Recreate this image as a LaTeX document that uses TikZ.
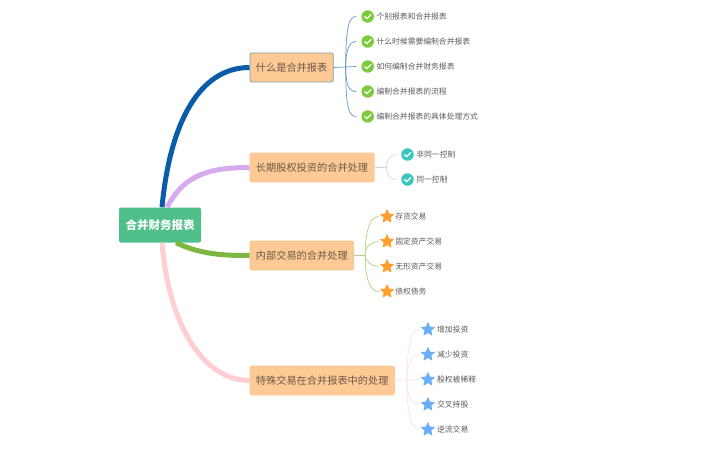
\documentclass[tikz,border=0pt]{standalone}
\usepackage{fontspec}
\setmainfont{Noto Sans CJK SC}
\usepackage{tikz}
\usetikzlibrary{positioning,shapes.geometric}
\definecolor{branchblue}{HTML}{0A5CA8}
\definecolor{branchpurple}{HTML}{D6AAEC}
\definecolor{branchgreen}{HTML}{7CB842}
\definecolor{branchpink}{HTML}{FFCDD2}
\definecolor{rootgreen}{HTML}{4FBF8B}
\definecolor{topicfill}{HTML}{FDCA96}
\definecolor{topictext}{HTML}{6A5848}
\definecolor{leaftext}{HTML}{5A5A5A}
\definecolor{chkgreen}{HTML}{7CCB3C}
\definecolor{chkteal}{HTML}{3CC4BE}
\definecolor{starorange}{HTML}{FFA02E}
\definecolor{starblue}{HTML}{6AAEF5}
\tikzset{
  rootbox/.style={draw=none, fill=rootgreen, rounded corners=2pt, minimum width=82pt, minimum height=35pt, inner sep=0pt, text=white, font=\fontsize{11.5pt}{12pt}\selectfont\bfseries},
  topicbox/.style={draw=#1, fill=topicfill, line width=.8pt, rounded corners=2pt, minimum height=29pt, inner xsep=6pt, inner ysep=0pt, text=topictext, font=\fontsize{10.2pt}{11pt}\selectfont},
  leaftxt/.style={inner sep=0pt, yshift=-.5pt, text=leaftext, font=\fontsize{7.8pt}{9pt}\selectfont},
  chkicon/.style={circle, fill=#1, minimum size=12.5pt, inner sep=0pt, path picture={\draw[white, line width=1.2pt, line cap=round, line join=round] ([xshift=-3pt]path picture bounding box.center) -- ([xshift=-.8pt,yshift=-2.2pt]path picture bounding box.center) -- ([xshift=3.2pt,yshift=2pt]path picture bounding box.center);}},
  staricon/.style={star, star points=5, star point ratio=2.2, fill=#1, draw=#1, line width=.8pt, line join=round, minimum size=13.5pt, inner sep=0pt},
  thick branch/.style={line width=5pt, #1},
  thin branch/.style={line width=.7pt, #1!65!white}
}
\begin{document}
\begin{tikzpicture}[x=1pt, y=1pt, node distance=89.5pt]
\useasboundingbox (0,0) rectangle (720,448);
\node[rootbox] (root) at (160,223) {合并财务报表};
\node[topicbox=gray!75!cyan, right of=root, anchor=west, yshift=157.5pt] (what) {什么是合并报表};
\node[topicbox=topicfill!80!pink, right of=root, anchor=west, yshift=57.5pt] (equity) {长期股权投资的合并处理};
\node[topicbox=topicfill!85!branchgreen, right of=root, anchor=west, yshift=-30.5pt] (inner) {内部交易的合并处理};
\node[topicbox=topicfill!90!pink, right of=root, anchor=west, yshift=-155.5pt] (special) {特殊交易在合并报表中的处理};
% main branches
\draw[thick branch=branchpink] ([xshift=2pt]root.south) .. controls +(7,-85) and +(-45,0) .. (special.west);
\draw[thick branch=branchgreen] ([xshift=16pt]root.south) .. controls +(25,-12) and +(-25,0) .. (inner.west);
\draw[thick branch=branchpurple] ([xshift=7pt]root.north) .. controls +(16,30) and +(-45,0) .. (equity.west);
\draw[thick branch=branchblue] ([xshift=2pt]root.north) .. controls +(8,85) and +(-50,0) .. (what.west);
% what
\node[chkicon=chkgreen, at={([xshift=34pt,yshift=51pt]what.east)}] (w1) {};
\node[chkicon=chkgreen, at={([xshift=34pt,yshift=26pt]what.east)}] (w2) {};
\node[chkicon=chkgreen, at={([xshift=34pt,yshift=1pt]what.east)}] (w3) {};
\node[chkicon=chkgreen, at={([xshift=34pt,yshift=-24pt]what.east)}] (w4) {};
\node[chkicon=chkgreen, at={([xshift=34pt,yshift=-49pt]what.east)}] (w5) {};
\node[leaftxt, right=2.2pt of w1] (wt1) {个别报表和合并报表};
\node[leaftxt, right=2.2pt of w2] (wt2) {什么时候需要编制合并报表};
\node[leaftxt, right=2.2pt of w3] (wt3) {如何编制合并财务报表};
\node[leaftxt, right=2.2pt of w4] (wt4) {编制合并报表的流程};
\node[leaftxt, right=2.2pt of w5] (wt5) {编制合并报表的具体处理方式};
\coordinate (wj) at ([xshift=12pt]what.east);
\draw[thin branch=branchblue] (what.east) -- ([xshift=-5pt]w3.west);
\draw[thin branch=branchblue] (wj) .. controls +(0,-38) and +(-8,0) .. ([xshift=-5pt]w5.west);
\draw[thin branch=branchblue] (wj) .. controls +(0,-18) and +(-7,0) .. ([xshift=-5pt]w4.west);
\draw[thin branch=branchblue] (wj) .. controls +(0,18) and +(-7,0) .. ([xshift=-5pt]w2.west);
\draw[thin branch=branchblue] (wj) .. controls +(0,38) and +(-8,0) .. ([xshift=-5pt]w1.west);
% equity
\node[chkicon=chkteal, at={([xshift=33pt,yshift=13pt]equity.east)}] (e1) {};
\node[chkicon=chkteal, at={([xshift=33pt,yshift=-12pt]equity.east)}] (e2) {};
\node[leaftxt, right=2.2pt of e1] (et1) {非同一控制};
\node[leaftxt, right=2.2pt of e2] (et2) {同一控制};
\coordinate (ej) at ([xshift=12pt]equity.east);
\draw[thin branch=branchpurple] (equity.east) -- (ej);
\draw[thin branch=branchpurple] (ej) .. controls +(0,9) and +(-6,0) .. ([xshift=-4pt]e1.west);
\draw[thin branch=branchpurple] (ej) .. controls +(0,-9) and +(-6,0) .. ([xshift=-4pt]e2.west);
% inner
\node[staricon=starorange, at={([xshift=33pt,yshift=39pt]inner.east)}] (i1) {};
\node[staricon=starorange, at={([xshift=33pt,yshift=14pt]inner.east)}] (i2) {};
\node[staricon=starorange, at={([xshift=33pt,yshift=-11pt]inner.east)}] (i3) {};
\node[staricon=starorange, at={([xshift=33pt,yshift=-36pt]inner.east)}] (i4) {};
\node[leaftxt, anchor=west, at={([xshift=8pt]i1.center)}] (it1) {存货交易};
\node[leaftxt, anchor=west, at={([xshift=8pt]i2.center)}] (it2) {固定资产交易};
\node[leaftxt, anchor=west, at={([xshift=8pt]i3.center)}] (it3) {无形资产交易};
\node[leaftxt, anchor=west, at={([xshift=8pt]i4.center)}] (it4) {债权债务};
\coordinate (ij) at ([xshift=11pt]inner.east);
\draw[thin branch=branchgreen] (inner.east) -- (ij);
\draw[thin branch=branchgreen] (ij) .. controls +(0,28) and +(-7,0) .. ([xshift=-4pt]i1.west);
\draw[thin branch=branchgreen] (ij) .. controls +(0,10) and +(-6,0) .. ([xshift=-4pt]i2.west);
\draw[thin branch=branchgreen] (ij) .. controls +(0,-6) and +(-6,0) .. ([xshift=-4pt]i3.west);
\draw[thin branch=branchgreen] (ij) .. controls +(0,-26) and +(-7,0) .. ([xshift=-4pt]i4.west);
% special
\node[staricon=starblue, at={([xshift=33pt,yshift=51pt]special.east)}] (s1) {};
\node[staricon=starblue, at={([xshift=33pt,yshift=26pt]special.east)}] (s2) {};
\node[staricon=starblue, at={([xshift=33pt,yshift=1pt]special.east)}] (s3) {};
\node[staricon=starblue, at={([xshift=33pt,yshift=-24pt]special.east)}] (s4) {};
\node[staricon=starblue, at={([xshift=33pt,yshift=-49pt]special.east)}] (s5) {};
\node[leaftxt, anchor=west, at={([xshift=9pt]s1.center)}] (st1) {增加投资};
\node[leaftxt, anchor=west, at={([xshift=9pt]s2.center)}] (st2) {减少投资};
\node[leaftxt, anchor=west, at={([xshift=9pt]s3.center)}] (st3) {股权被稀释};
\node[leaftxt, anchor=west, at={([xshift=9pt]s4.center)}] (st4) {交叉持股};
\node[leaftxt, anchor=west, at={([xshift=9pt]s5.center)}] (st5) {逆流交易};
\coordinate (sj) at ([xshift=12pt]special.east);
\draw[thin branch=branchpink] (special.east) -- ([xshift=-4pt]s3.west);
\draw[thin branch=branchpink] (sj) .. controls +(0,38) and +(-7,0) .. ([xshift=-4pt]s1.west);
\draw[thin branch=branchpink] (sj) .. controls +(0,18) and +(-6,0) .. ([xshift=-4pt]s2.west);
\draw[thin branch=branchpink] (sj) .. controls +(0,-18) and +(-6,0) .. ([xshift=-4pt]s4.west);
\draw[thin branch=branchpink] (sj) .. controls +(0,-38) and +(-7,0) .. ([xshift=-4pt]s5.west);
\end{tikzpicture}
\end{document}
